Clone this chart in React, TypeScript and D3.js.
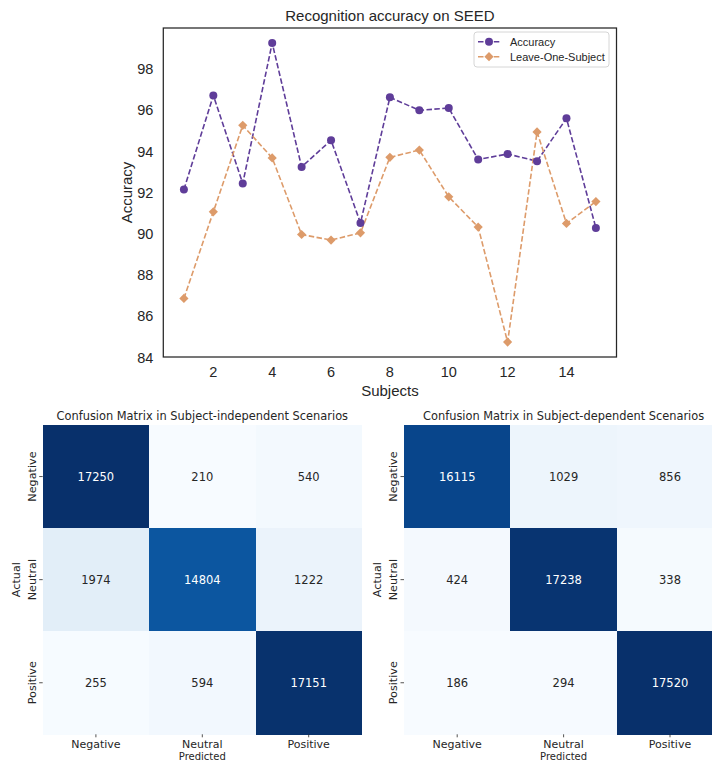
import React from 'react';
import * as d3 from 'd3';

const W = 712;
const H = 762;

const subjects = [1, 2, 3, 4, 5, 6, 7, 8, 9, 10, 11, 12, 13, 14, 15];
const accuracy = [92.15, 96.72, 92.45, 99.27, 93.25, 94.55, 90.53, 96.63, 96.0, 96.11, 93.61, 93.88, 93.53, 95.61, 90.29];
const leaveOne = [86.87, 91.07, 95.27, 93.69, 89.97, 89.7, 90.05, 93.72, 94.07, 91.8, 90.33, 84.75, 94.95, 90.51, 91.57];
const yTicks = [84, 86, 88, 90, 92, 94, 96, 98];
const xTicks = [2, 4, 6, 8, 10, 12, 14];

const classes = ['Negative', 'Neutral', 'Positive'];
const independentMatrix = [
  [17250, 210, 540],
  [1974, 14804, 1222],
  [255, 594, 17151],
];
const dependentMatrix = [
  [16115, 1029, 856],
  [424, 17238, 338],
  [186, 294, 17520],
];

const BLUES = ['#f7fbff', '#deebf7', '#c6dbef', '#9ecae1', '#6baed6', '#4292c6', '#2171b5', '#08519c', '#08306b'];

const PURPLE = '#5f3d99';
const ORANGE = '#dd9b6a';
const INK = '#262626';

const LineChart = () => {
  const left = 163.3, right = 616.5, top = 28, bottom = 357;
  const allVals = accuracy.concat(leaveOne);
  const lo = d3.min(allVals)!, hi = d3.max(allVals)!;
  const pad = (hi - lo) * 0.05;

  const x = d3.scaleLinear().domain([1 - 0.7, 15 + 0.7]).range([left, right]);
  const y = d3.scaleLinear().domain([lo - pad, hi + pad]).range([bottom, top]);

  const line = d3.line<number>()
    .x((d, i) => x(subjects[i]))
    .y(d => y(d));

  const diamond = (cx: number, cy: number, r: number) =>
    `M${cx},${cy - r}L${cx + r},${cy}L${cx},${cy + r}L${cx - r},${cy}Z`;

  const font = "'Liberation Sans', Arial, sans-serif";

  return (
    <g fontFamily={font} fill={INK}>
      <text x={(left + right) / 2} y={21} textAnchor="middle" fontSize={15}>Recognition accuracy on SEED</text>

      <path d={line(accuracy)!} fill="none" stroke={PURPLE} strokeWidth={1.6} strokeDasharray="5.5,2.4" />
      <path d={line(leaveOne)!} fill="none" stroke={ORANGE} strokeWidth={1.6} strokeDasharray="5.5,2.4" />
      {accuracy.map((v, i) => (
        <circle key={'a' + i} cx={x(subjects[i])} cy={y(v)} r={4} fill={PURPLE} />
      ))}
      {leaveOne.map((v, i) => (
        <path key={'l' + i} d={diamond(x(subjects[i]), y(v), 4.6)} fill={ORANGE} />
      ))}

      <rect x={left} y={top} width={right - left} height={bottom - top} fill="none" stroke={INK} strokeWidth={1.25} />

      {yTicks.map(t => (
        <text key={t} x={left - 10} y={y(t)} dy="0.35em" textAnchor="end" fontSize={14.5}>{t}</text>
      ))}
      {xTicks.map(t => (
        <text key={t} x={x(t)} y={bottom + 20} textAnchor="middle" fontSize={14.5}>{t}</text>
      ))}
      <text x={(left + right) / 2} y={396} textAnchor="middle" fontSize={15}>Subjects</text>
      <text transform={`translate(132,${(top + bottom) / 2}) rotate(-90)`} textAnchor="middle" fontSize={15}>Accuracy</text>

      <g transform="translate(474,32)">
        <rect x={0} y={0} width={135} height={35} rx={3} fill="#fff" fillOpacity={0.8} stroke="#cccccc" strokeWidth={0.8} />
        <line x1={4} x2={26} y1={9.7} y2={9.7} stroke={PURPLE} strokeWidth={1.6} strokeDasharray="5.5,2.4" />
        <circle cx={15} cy={9.7} r={4} fill={PURPLE} />
        <text x={36} y={9.7} dy="0.35em" fontSize={11}>Accuracy</text>
        <line x1={4} x2={26} y1={24.7} y2={24.7} stroke={ORANGE} strokeWidth={1.6} strokeDasharray="5.5,2.4" />
        <path d={diamond(15, 24.7, 4.6)} fill={ORANGE} />
        <text x={36} y={24.7} dy="0.35em" fontSize={11}>Leave-One-Subject</text>
      </g>
    </g>
  );
};

const Heatmap = ({ matrix, title, x0 }: { matrix: number[][]; title: string; x0: number }) => {
  const top = 425, cellW = 106.4, cellH = 103.1;
  const font = "'DejaVu Sans', sans-serif";
  const flat = matrix.flat();
  const vmin = d3.min(flat)!, vmax = d3.max(flat)!;

  const xs = d3.scaleBand<string>().domain(classes).range([x0, x0 + cellW * 3]);
  const ys = d3.scaleBand<string>().domain(classes).range([top, top + cellH * 3]);
  const color = d3.scaleLinear<string>()
    .domain(BLUES.map((_, i) => vmin + (vmax - vmin) * i / (BLUES.length - 1)))
    .range(BLUES)
    .interpolate(d3.interpolateRgb);

  const textColor = (c: string) => {
    const rgb = d3.rgb(c);
    const lin = (v: number) => {
      const s = v / 255;
      return s <= 0.03928 ? s / 12.92 : Math.pow((s + 0.055) / 1.055, 2.4);
    };
    const lum = 0.2126 * lin(rgb.r) + 0.7152 * lin(rgb.g) + 0.0722 * lin(rgb.b);
    return lum > 0.408 ? INK : '#ffffff';
  };

  const cx = x0 + cellW * 1.5;
  const bottom = top + cellH * 3;

  return (
    <g fontFamily={font}>
      <text x={cx} y={420} textAnchor="middle" fontSize={11.4} fill={INK}>{title}</text>
      {matrix.map((row, r) =>
        row.map((v, c) => {
          const fillC = color(v);
          return (
            <g key={`${r}-${c}`}>
              <rect x={xs(classes[c])!} y={ys(classes[r])!} width={xs.bandwidth() + 0.5} height={ys.bandwidth() + 0.5}
                fill={fillC} shapeRendering="crispEdges" />
              <text x={xs(classes[c])! + xs.bandwidth() / 2} y={ys(classes[r])! + ys.bandwidth() / 2} dy="0.36em"
                textAnchor="middle" fontSize={11.5} fill={textColor(fillC)}>{v}</text>
            </g>
          );
        })
      )}
      {classes.map(k => (
        <g key={'y' + k}>
          <line x1={x0 - 3.5} x2={x0} y1={ys(k)! + ys.bandwidth() / 2} y2={ys(k)! + ys.bandwidth() / 2} stroke={INK} strokeWidth={0.8} />
          <text transform={`translate(${x0 - 7},${ys(k)! + ys.bandwidth() / 2}) rotate(-90)`} textAnchor="middle"
            fontSize={11.2} fill={INK}>{k}</text>
        </g>
      ))}
      {classes.map(k => (
        <g key={'x' + k}>
          <line x1={xs(k)! + xs.bandwidth() / 2} x2={xs(k)! + xs.bandwidth() / 2} y1={bottom} y2={bottom + 3} stroke={INK} strokeWidth={0.8} />
          <text x={xs(k)! + xs.bandwidth() / 2} y={747.5} textAnchor="middle" fontSize={11} fill={INK}>{k}</text>
        </g>
      ))}
      <text x={cx} y={759.5} textAnchor="middle" fontSize={10} fill={INK}>Predicted</text>
      <text transform={`translate(${x0 - 23},${(top + bottom) / 2}) rotate(-90)`} textAnchor="middle" fontSize={11.2} fill={INK}>Actual</text>
    </g>
  );
};

export default function App() {
  return (
    <svg width={W} height={H} style={{ position: 'absolute', left: 0, top: 0, background: '#fff' }}>
      <rect width={W} height={H} fill="#fff" />
      <LineChart />
      <Heatmap matrix={independentMatrix} title="Confusion Matrix in Subject-independent Scenarios" x0={42.7} />
      <Heatmap matrix={dependentMatrix} title="Confusion Matrix in Subject-dependent Scenarios" x0={404} />
    </svg>
  );
}
